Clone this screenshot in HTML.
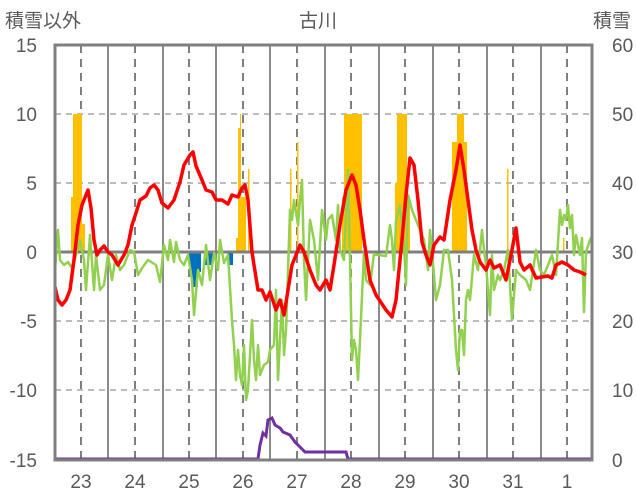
<!DOCTYPE html>
<html><head><meta charset="utf-8"><style>
body{margin:0;background:#fff;}
svg{display:block;font-family:"Liberation Sans","Noto Sans CJK JP",sans-serif;}
</style></head><body>
<svg width="636" height="501" viewBox="0 0 636 501">
<rect width="636" height="501" fill="#fff"/>
<g fill="#595959" font-size="19">
<text x="5" y="27">積雪以外</text>
<text x="318" y="27" text-anchor="middle">古川</text>
<text x="631" y="27" text-anchor="end">積雪</text>
<g text-anchor="end">
<text x="37" y="52">15</text><text x="37" y="121">10</text><text x="37" y="190">5</text><text x="37" y="259">0</text><text x="37" y="328">-5</text><text x="37" y="397">-10</text><text x="37" y="467">-15</text>
</g>
<text x="612" y="52">60</text><text x="612" y="121">50</text><text x="612" y="190">40</text><text x="612" y="259">30</text><text x="612" y="328">20</text><text x="612" y="397">10</text><text x="612" y="467">0</text>
<g text-anchor="middle">
<text x="81" y="488">23</text><text x="135" y="488">24</text><text x="189" y="488">25</text><text x="243" y="488">26</text><text x="297" y="488">27</text><text x="351" y="488">28</text><text x="405" y="488">29</text><text x="459" y="488">30</text><text x="513" y="488">31</text><text x="567" y="488">1</text>
</g>
</g>
<g stroke="#a6a6a6" stroke-width="1.5" stroke-dasharray="6,5">
<line x1="55" y1="114" x2="592" y2="114"/><line x1="55" y1="183" x2="592" y2="183"/><line x1="55" y1="321" x2="592" y2="321"/><line x1="55" y1="390" x2="592" y2="390"/>
</g>
<g stroke="#7f7f7f" stroke-width="2" stroke-dasharray="8,6">
<line x1="81" y1="45" x2="81" y2="460"/><line x1="135" y1="45" x2="135" y2="460"/><line x1="189" y1="45" x2="189" y2="460"/><line x1="243" y1="45" x2="243" y2="460"/><line x1="297" y1="45" x2="297" y2="460"/><line x1="351" y1="45" x2="351" y2="460"/><line x1="405" y1="45" x2="405" y2="460"/><line x1="459" y1="45" x2="459" y2="460"/><line x1="513" y1="45" x2="513" y2="460"/><line x1="567" y1="45" x2="567" y2="460"/>
</g>
<g stroke="#8a8a8a" stroke-width="2">
<line x1="108" y1="45" x2="108" y2="460"/><line x1="163" y1="45" x2="163" y2="460"/><line x1="216" y1="45" x2="216" y2="460"/><line x1="270" y1="45" x2="270" y2="460"/><line x1="325" y1="45" x2="325" y2="460"/><line x1="379" y1="45" x2="379" y2="460"/><line x1="433" y1="45" x2="433" y2="460"/><line x1="487" y1="45" x2="487" y2="460"/><line x1="541" y1="45" x2="541" y2="460"/>
</g>
<g fill="#ffc000">
<rect x="71" y="197" width="3" height="55"/><rect x="73" y="114" width="9" height="138"/><rect x="82" y="224" width="3" height="28"/>
<rect x="236" y="238" width="3" height="14"/><rect x="238" y="128" width="3" height="124"/><rect x="240" y="114" width="1" height="138"/><rect x="241" y="197" width="5" height="55"/><rect x="248" y="169" width="1.5" height="83"/>
<rect x="290" y="169" width="1.5" height="83"/><rect x="297" y="142" width="1.5" height="110"/>
<rect x="342" y="197" width="2" height="55"/><rect x="344" y="114" width="18" height="138"/>
<rect x="395" y="183" width="3" height="69"/><rect x="397" y="114" width="10" height="138"/><rect x="407" y="197" width="3" height="55"/>
<rect x="452" y="142" width="5" height="110"/><rect x="457" y="114" width="7" height="138"/><rect x="464" y="142" width="3" height="110"/>
<rect x="507" y="169" width="1.5" height="83"/><rect x="563" y="238" width="1.5" height="14"/>
</g>
<g fill="#0070c0">
<rect x="189" y="252" width="12" height="20"/><rect x="192" y="252" width="6" height="35"/><rect x="205" y="252" width="8" height="13"/><rect x="228" y="252" width="5" height="13"/>
</g>
<line x1="55" y1="252" x2="592" y2="252" stroke="#7f7f7f" stroke-width="3"/>
<polyline fill="none" stroke="#92d050" stroke-width="2.5" stroke-linejoin="round" points="55,270 58,230 60,260 64,265 68,262 72,268 76,255 80,240 84,260 86,290 90,235 94,290 96,255 100,290 104,285 108,255 112,280 116,255 120,270 124,265 130,250 134,252 138,275 142,268 148,260 156,265 160,282 164,245 168,260 170,240 174,262 176,242 180,260 184,265 188,255 192,280 194,315 198,270 202,285 206,245 210,280 214,253 218,270 220,240 224,263 228,255 232,320 234,345 236,380 238,350 240,375 242,385 244,345 246,400 248,390 252,320 254,360 256,380 258,345 260,375 264,365 268,362 270,350 274,345 276,290 278,380 282,300 284,355 286,330 290,210 292,220 294,200 298,225 300,200 302,180 304,260 306,300 310,220 314,240 318,280 322,210 326,240 328,220 332,215 336,240 338,205 340,250 344,260 348,170 350,260 352,360 354,340 356,350 358,380 360,340 364,252 366,280 370,285 374,254 378,255 386,256 390,225 392,240 394,270 396,220 400,205 404,245 406,285 408,195 412,210 416,220 420,230 424,240 428,270 430,230 434,275 436,300 440,285 444,250 448,250 452,280 456,350 458,370 460,330 462,330 464,355 466,300 468,290 470,300 474,255 478,270 482,230 484,250 486,265 490,315 492,255 494,290 498,275 500,280 504,270 508,250 512,320 516,270 520,275 526,280 530,290 536,250 540,270 544,275 552,255 556,275 560,210 562,225 564,215 566,220 568,205 570,228 572,215 574,255 576,235 580,255 582,238 584,312 586,252 590,240 592,236"/>
<polyline fill="none" stroke="#ff0000" stroke-width="3.5" stroke-linejoin="round" points="55,287 58,300 62,305 66,300 70,290 74,260 78,225 82,205 88,190 91,208 94,240 97,255 100,250 104,246 108,252 112,255 118,265 124,255 128,245 132,225 136,213 140,200 146,196 150,188 154,185 158,190 162,203 168,208 174,200 180,182 184,165 190,155 193,152 196,166 202,180 206,190 212,192 216,200 222,200 228,204 232,195 238,197 242,188 245,185 248,200 252,252 254,265 258,290 262,290 266,300 270,292 276,310 280,300 284,315 288,290 292,265 296,255 300,245 304,252 310,270 316,285 320,290 326,280 330,290 334,265 340,225 346,190 352,175 356,185 360,210 364,240 370,280 376,295 386,310 392,317 396,300 402,240 406,195 410,158 414,165 418,200 422,242 426,255 430,265 434,245 440,237 444,240 450,200 456,170 460,145 464,170 468,200 472,230 476,250 480,262 486,270 490,260 494,268 500,265 506,280 512,250 516,228 520,262 524,270 530,265 536,278 542,277 548,276 552,278 556,265 562,262 568,265 574,270 580,272 586,275"/>
<polyline fill="none" stroke="#7030a0" stroke-width="3" points="55,459 258,459 260,445 263,433 266,436 268,420 272,418 275,425 280,428 283,432 290,435 295,442 300,447 305,452 346,452 348,459 592,459"/>
<rect x="55" y="45" width="537" height="415" fill="none" stroke="#7f7f7f" stroke-width="3"/>
</svg>
</body></html>
